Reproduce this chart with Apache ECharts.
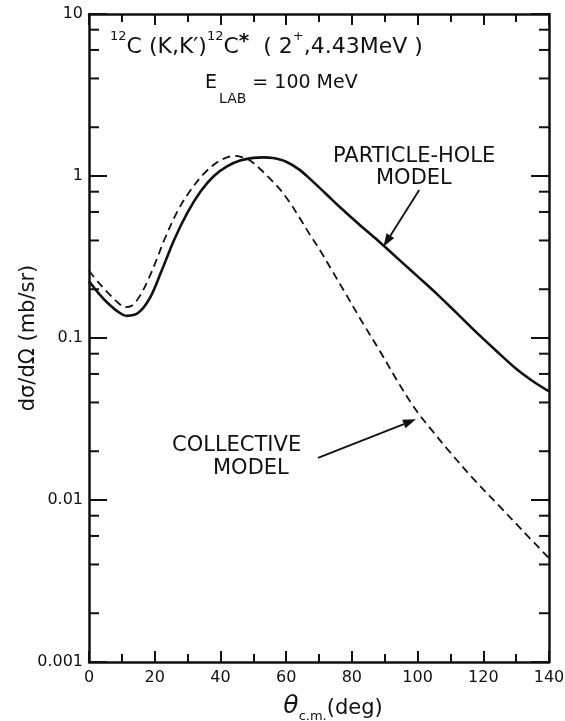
<!DOCTYPE html>
<html>
<head>
<meta charset="utf-8">
<script src="https://cdn.jsdelivr.net/npm/echarts@6/dist/echarts.min.js"></script>
<style>
  html, body { margin: 0; padding: 0; background: #fff; }
  #chart { width: 565px; height: 721px; }
</style>
</head>
<body>
<div id="chart"></div>
<script>
// particle-hole model (solid)
var phAngle = [0, 3, 6, 9, 11.5, 15, 18.5, 22, 26, 30, 34, 38, 42, 46, 50, 53, 56, 60, 64, 68, 72, 76, 82, 88, 94, 100, 106, 112, 118, 124, 130, 135, 140];
var phValue = [0.225, 0.188, 0.162, 0.1445, 0.137, 0.143, 0.176, 0.257, 0.407, 0.596, 0.804, 1.0, 1.148, 1.245, 1.294, 1.303, 1.29, 1.225, 1.095, 0.93, 0.78, 0.653, 0.507, 0.398, 0.309, 0.240, 0.186, 0.142, 0.108, 0.0832, 0.0646, 0.0543, 0.0468];
// collective model (dashed)
var colAngle = [0, 3, 6, 9, 11, 13, 15.5, 18, 20.5, 23, 27, 31, 35, 39, 42, 44, 46, 49, 52, 55, 58, 61, 64, 67, 70.5, 74, 77.5, 83, 88.5, 94, 98, 101, 104, 109, 117, 125, 132, 140];
var colValue = [0.260, 0.219, 0.188, 0.164, 0.155, 0.158, 0.182, 0.229, 0.302, 0.407, 0.610, 0.822, 1.035, 1.216, 1.303, 1.330, 1.318, 1.245, 1.109, 0.966, 0.832, 0.692, 0.556, 0.442, 0.343, 0.260, 0.197, 0.127, 0.0832, 0.0537, 0.0398, 0.0327, 0.0275, 0.0207, 0.0135, 0.00912, 0.00646, 0.00437];
// minor ticks of the log axis
var minorTicks = [0.002, 0.004, 0.006, 0.008, 0.02, 0.04, 0.06, 0.08, 0.2, 0.4, 0.6, 0.8, 2, 4, 6, 8];
// arrows from the labels to the curves: [angle, value] start, end
var arrows = [
  [100.5, 0.82, 89.6, 0.366],
  [69.7, 0.0182, 99.5, 0.0315]
];

function pairs(xs, ys) {
  return xs.map(function (x, i) { return [x, ys[i]]; });
}

var font = 'DejaVu Sans';
var ink = '#111';

var chart = echarts.init(document.getElementById('chart'));

var xBase = {
  type: 'value', min: 0, max: 140, interval: 20,
  axisLine: { onZero: false, lineStyle: { color: ink, width: 2.5 } },
  axisTick: { inside: true, length: 11, lineStyle: { color: ink, width: 2 } },
  minorTick: { show: true, splitNumber: 2, length: 8, lineStyle: { color: ink, width: 2 } },
  splitLine: { show: false }
};
var yBase = {
  type: 'log', logBase: 10, min: 0.001, max: 10,
  axisLine: { onZero: false, lineStyle: { color: ink, width: 2.5 } },
  axisTick: { inside: true, length: 18, lineStyle: { color: ink, width: 2 } },
  splitLine: { show: false }
};

var label = function (txt, left, top, size) {
  return { type: 'text', left: left, top: top, style: { text: txt, fontFamily: font, fontSize: size, fill: ink } };
};

chart.setOption({
  animation: false,
  backgroundColor: '#fff',
  grid: { left: 89, right: 16, top: 14, bottom: 59, containLabel: false, outerBoundsMode: 'none' },
  xAxis: [
    Object.assign({}, xBase, {
      position: 'bottom',
      axisLabel: { color: ink, fontFamily: font, fontSize: 16, margin: 8 },
      name: '{t|θ}{s|c.m.}{d|(deg)}',
      nameLocation: 'middle',
      nameGap: 29,
      nameMoveOverlap: false,
      nameTextStyle: {
        padding: [0, 0, 0, 28],
        rich: {
          t: { fontFamily: font, fontSize: 25, fontStyle: 'italic', color: ink, lineHeight: 28, verticalAlign: 'bottom' },
          s: { fontFamily: font, fontSize: 13, color: ink, lineHeight: 28, verticalAlign: 'bottom', padding: [0, 0, -4, 0] },
          d: { fontFamily: font, fontSize: 21, color: ink, lineHeight: 28, verticalAlign: 'bottom' }
        }
      }
    }),
    Object.assign({}, xBase, { position: 'top', axisLabel: { show: false } })
  ],
  yAxis: [
    Object.assign({}, yBase, {
      position: 'left',
      axisLabel: { color: ink, fontFamily: font, fontSize: 16, margin: 6 },
      name: 'dσ/dΩ (mb/sr)',
      nameLocation: 'middle',
      nameRotate: 90,
      nameGap: 50,
      nameMoveOverlap: false,
      nameTextStyle: { color: ink, fontFamily: font, fontSize: 21 }
    }),
    Object.assign({}, yBase, { position: 'right', axisLabel: { show: false } })
  ],
  series: [
    {
      type: 'line', name: 'PARTICLE-HOLE MODEL',
      data: pairs(phAngle, phValue),
      smooth: 0.35, symbol: 'none',
      lineStyle: { color: ink, width: 2.6 }
    },
    {
      type: 'line', name: 'COLLECTIVE MODEL',
      data: pairs(colAngle, colValue),
      smooth: 0.35, symbol: 'none',
      lineStyle: { color: ink, width: 1.8, type: [8, 5] }
    },
    {
      // inner minor ticks at 2,4,6,8 of every decade, both sides
      type: 'custom', silent: true, clip: false,
      data: minorTicks.map(function (v) { return [0, v]; }),
      renderItem: function (params, api) {
        var cs = params.coordSys;
        var y = api.coord([0, api.value(1)])[1];
        var st = { stroke: ink, lineWidth: 2 };
        return {
          type: 'group',
          children: [
            { type: 'line', shape: { x1: cs.x, y1: y, x2: cs.x + 10, y2: y }, style: st },
            { type: 'line', shape: { x1: cs.x + cs.width - 10, y1: y, x2: cs.x + cs.width, y2: y }, style: st }
          ]
        };
      }
    },
    {
      // annotation arrows
      type: 'custom', silent: true, clip: false,
      data: arrows,
      renderItem: function (params, api) {
        var a = api.coord([api.value(0), api.value(1)]);
        var b = api.coord([api.value(2), api.value(3)]);
        var ang = Math.atan2(b[1] - a[1], b[0] - a[0]);
        var len = 13, half = 4.5;
        var bx = b[0] - len * Math.cos(ang), by = b[1] - len * Math.sin(ang);
        var px = -Math.sin(ang) * half, py = Math.cos(ang) * half;
        return {
          type: 'group',
          children: [
            { type: 'line', shape: { x1: a[0], y1: a[1], x2: bx, y2: by }, style: { stroke: ink, lineWidth: 1.8 } },
            { type: 'polygon', shape: { points: [[b[0], b[1]], [bx + px, by + py], [bx - px, by - py]] }, style: { fill: ink } }
          ]
        };
      }
    }
  ],
  graphic: [
    {
      type: 'text', left: 110, top: 30,
      style: {
        text: '{p|12}{m|C (K,K′)}{p|12}{m|C}{a|*}{m|  ( 2}{p|+}{m|,4.43MeV )}',
        rich: {
          m: { fontFamily: font, fontSize: 22, fill: ink, lineHeight: 28, verticalAlign: 'bottom' },
          p: { fontFamily: font, fontSize: 13, fill: ink, lineHeight: 28, verticalAlign: 'top' },
          a: { fontFamily: font, fontSize: 20, fontWeight: 'bold', fill: ink, lineHeight: 28, verticalAlign: 'top', padding: [2, 0, 0, 0] }
        }
      }
    },
    {
      type: 'text', left: 205, top: 74,
      style: {
        text: '{e|E}{l|LAB}{e| = 100 MeV}',
        rich: {
          e: { fontFamily: font, fontSize: 19, fill: ink, lineHeight: 24, verticalAlign: 'top' },
          l: { fontFamily: font, fontSize: 14, fill: ink, lineHeight: 24, verticalAlign: 'bottom', padding: [0, 0, -8, 2] }
        }
      }
    },
    label('PARTICLE-HOLE', 333, 146, 21),
    label('MODEL', 376, 168, 21),
    label('COLLECTIVE', 172, 435, 21),
    label('MODEL', 213, 458, 21)
  ]
});
</script>
</body>
</html>
